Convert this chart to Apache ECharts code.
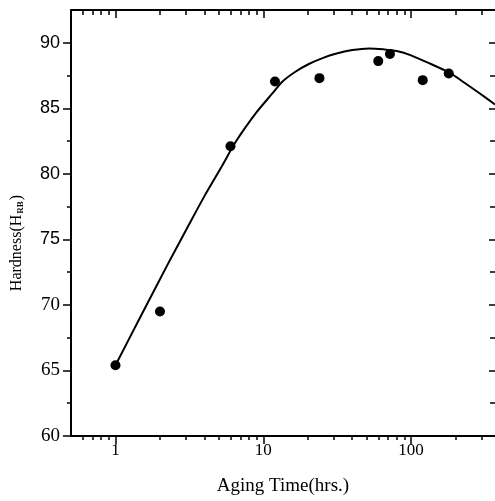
<!DOCTYPE html>
<html><head><meta charset="utf-8">
<script src="https://cdn.jsdelivr.net/npm/echarts@6/dist/echarts.min.js"></script>
<style>html,body{margin:0;padding:0;background:#fff}#c{width:495px;height:501px}</style>
</head><body><div id="c"></div>
<script>
const pointTimes = [1, 2, 6, 12, 24, 60, 72, 120, 180];
const pointHardness = [65.4, 69.5, 82.1, 87.05, 87.3, 88.6, 89.15, 87.15, 87.65];
const curveTimes = [1, 1.5, 2.27, 3.1, 4.0, 5.2, 6.56, 8.94, 11.6, 13.5, 16.6, 20.5, 25.2, 30.9, 40, 52, 65, 80, 100, 135, 184, 230, 278, 370];
const curveHardness = [65.4, 69.25, 73.15, 76.0, 78.3, 80.5, 82.5, 84.65, 86.17, 87.05, 87.81, 88.4, 88.83, 89.16, 89.44, 89.57, 89.5, 89.37, 89.04, 88.4, 87.69, 86.95, 86.3, 85.3];
const xMajorTicks = [1, 10, 100];
const xMinorTicks = [0.6, 0.7, 0.8, 0.9, 2, 3, 4, 5, 6, 7, 8, 9, 20, 30, 40, 50, 60, 70, 80, 90, 200, 300];
const yMajorTicks = [60, 65, 70, 75, 80, 85, 90];
const yMinorTicks = [62.5, 67.5, 72.5, 77.5, 82.5, 87.5];

const serif = '"Liberation Serif", "DejaVu Serif", serif';
const sans = '"Liberation Sans", Arial, sans-serif';
const X_MIN = 0.5, X_MAX = 370, Y_MIN = 60, Y_MAX = 92.5;
const lineStyle = {color: '#000', width: 2};

function xAx(pos, ticks, len, inside, showLine, extra) {
  return Object.assign({
    type: 'log', logBase: 10, min: X_MIN, max: X_MAX, position: pos,
    axisLine: {show: showLine, onZero: false, lineStyle: lineStyle},
    axisTick: {show: true, customValues: ticks, length: len, inside: inside, lineStyle: {color: '#000', width: 1.5}},
    axisLabel: {show: false},
    splitLine: {show: false}, minorTick: {show: false}, minorSplitLine: {show: false}
  }, extra || {});
}
function yAx(pos, ticks, len, inside, showLine, extra) {
  return Object.assign({
    type: 'value', min: Y_MIN, max: Y_MAX, position: pos,
    axisLine: {show: showLine, onZero: false, lineStyle: lineStyle},
    axisTick: {show: true, customValues: ticks, length: len, inside: inside, lineStyle: {color: '#000', width: 1.5}},
    axisLabel: {show: false},
    splitLine: {show: false}
  }, extra || {});
}

const chart = echarts.init(document.getElementById('c'), null, {renderer: 'canvas'});
chart.setOption({
  animation: false,
  backgroundColor: '#fff',
  grid: {left: 71, top: 10, right: -2, bottom: 63, containLabel: false},
  xAxis: [
    xAx('bottom', xMajorTicks, 8, false, true, {
      axisLabel: {show: true, customValues: xMajorTicks, margin: 6, color: '#000',
        fontFamily: serif, fontSize: 17, formatter: v => String(v)},
      name: 'Aging Time(hrs.)', nameLocation: 'middle', nameGap: 41,
      nameTextStyle: {fontFamily: serif, fontSize: 19, color: '#000'}
    }),
    xAx('bottom', xMinorTicks, 4, false, false),
    xAx('top', xMajorTicks, 8, true, true),
    xAx('top', xMinorTicks, 5, true, false)
  ],
  yAxis: [
    yAx('left', yMajorTicks, 8, false, true, {
      axisLabel: {show: true, customValues: yMajorTicks, margin: 11, color: '#000',
        fontFamily: serif, fontSize: 19,
        formatter: v => (Number(v) >= 75 ? '{s|' + v + '}' : '{r|' + v + '}'),
        rich: {s: {fontFamily: sans, fontSize: 18, color: '#000'}, r: {fontFamily: serif, fontSize: 19, color: '#000'}}},
      name: '{a|Hardness(H}{b|RB}{a|)}', nameLocation: 'middle', nameGap: 46,
      nameTextStyle: {padding: [0, 40, 0, 0],
        rich: {a: {fontFamily: serif, fontSize: 16, color: '#000'},
               b: {fontFamily: serif, fontSize: 9, color: '#000', fontWeight: 'bold', verticalAlign: 'bottom', padding: [0, 1, 0, 1]}}}
    }),
    yAx('left', yMinorTicks, 4, false, false),
    yAx('right', yMajorTicks, 6, true, false),
    yAx('right', yMinorTicks, 5, true, false)
  ],
  series: [
    {type: 'line', xAxisIndex: 0, yAxisIndex: 0, smooth: 0.3, showSymbol: false,
     lineStyle: {color: '#000', width: 2}, silent: true,
     data: curveTimes.map((t, i) => [t, curveHardness[i]])},
    {type: 'scatter', xAxisIndex: 0, yAxisIndex: 0, symbol: 'circle', symbolSize: 10,
     itemStyle: {color: '#000', opacity: 1}, silent: true,
     data: pointTimes.map((t, i) => [t, pointHardness[i]])}
  ]
});
</script>
</body></html>
